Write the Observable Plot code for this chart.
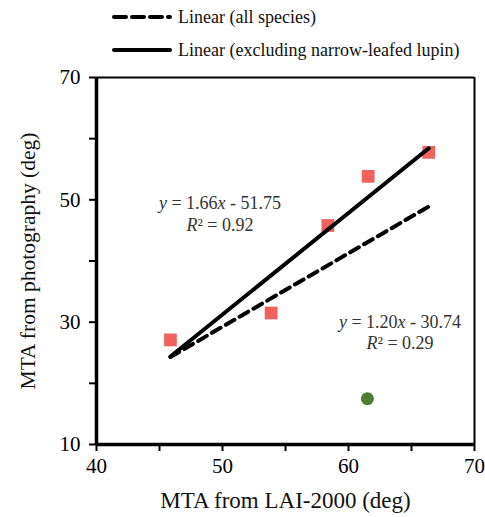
<!DOCTYPE html>
<html><head><meta charset="utf-8">
<script src="https://cdn.jsdelivr.net/npm/d3@7"></script>
<script src="https://cdn.jsdelivr.net/npm/@observablehq/plot@0.6"></script>
<style>
body{margin:0;background:#fff;font-family:"Liberation Serif","Times New Roman",serif;}
#wrap{position:relative;width:485px;height:517px;overflow:hidden;background:#fff}
#legend{position:relative;width:485px;height:62px}
.row{position:absolute;left:0;height:20px;display:flex;align-items:center}
.row svg{margin-left:112px}
.row span{margin-left:6px;font-size:18px;color:#111;white-space:nowrap;font-family:"Liberation Serif","Times New Roman",serif}
</style></head><body>
<div id="wrap"><div id="legend"></div><div id="chart"></div></div>
<script>
// Data
const laiSquares = [45.87, 53.86, 58.36, 61.56, 66.37];   // MTA from LAI-2000 (deg)
const photoSquares = [27.1, 31.5, 45.8, 53.84, 57.76];    // MTA from photography (deg)
const laiLupin = [61.5];
const photoLupin = [17.5];
const fitNames = ["Linear (all species)", "Linear (excluding narrow-leafed lupin)"];
const fitSlopes = [1.20, 1.66];
const fitIntercepts = [-30.74, -51.75];
const fitR2 = [0.29, 0.92];
const fitDash = ["10,6", null];
const labelX = [64.09, 49.8];
const labelEqY = [29.93, 49.4];
const labelR2Y = [26.55, 45.9];
const xTicks = [40, 45, 50, 55, 60, 65, 70];
const yTicks = [10, 20, 30, 40, 50, 60, 70];

// legend
const legend = d3.select("#legend");
fitNames.forEach((name, i) => {
  const row = legend.append("div").attr("class", "row").style("top", (7 + 33 * i) + "px");
  const s = row.append("svg").attr("width", 60).attr("height", 20);
  s.append("line").attr("x1", 2).attr("x2", 58).attr("y1", 10).attr("y2", 10)
    .attr("stroke", "#000").attr("stroke-width", 4)
    .attr("stroke-dasharray", fitDash[i] ? "12,6" : null)
    .attr("stroke-linecap", "round");
  row.append("span").text(name);
});

const allX = laiSquares.concat(laiLupin);
const xmin = d3.min(allX), xmax = d3.max(allX);
const fitLines = fitNames.flatMap((name, i) => [xmin, xmax].map(x => ({name, i, x, y: fitSlopes[i] * x + fitIntercepts[i]})));
const squares = laiSquares.map((x, i) => ({x, y: photoSquares[i]}));
const lupin = laiLupin.map((x, i) => ({x, y: photoLupin[i]}));
const eqLabels = fitNames.map((n, i) => ({x: labelX[i], y: labelEqY[i], t: `y = ${fitSlopes[i].toFixed(2)}x - ${Math.abs(fitIntercepts[i]).toFixed(2)}`}));
const r2Labels = fitNames.map((n, i) => ({x: labelX[i], y: labelR2Y[i], t: `R² = ${fitR2[i].toFixed(2)}`}));

const font = '"Liberation Serif","Times New Roman",serif';
const chart = Plot.plot({
  width: 485, height: 455,
  marginTop: 15, marginLeft: 96, marginRight: 11, marginBottom: 73,
  x: {domain: [40, 70]},
  y: {domain: [10, 70]},
  style: {fontFamily: font, fontSize: "21px", color: "#000", background: "#fff", overflow: "visible"},
  marks: [
    Plot.axisX({ticks: xTicks, tickFormat: d => d % 10 === 0 ? d : "", tickSize: 7, tickPadding: 7, strokeWidth: 2, label: null, fontSize: 21, fontFamily: font}),
    Plot.axisY({ticks: yTicks, tickFormat: d => (d - 10) % 20 === 0 ? d : "", tickSize: 7, tickPadding: 9, strokeWidth: 2, label: null, fontSize: 21, fontFamily: font}),
    Plot.ruleY([70], {strokeWidth: 2}),
    Plot.ruleX([70], {strokeWidth: 2}),
    Plot.ruleX([40], {strokeWidth: 3.5}),
    Plot.ruleY([10], {strokeWidth: 3.5}),
    Plot.dot(squares, {x: "x", y: "y", symbol: "square", r: 7.2, fill: "#f0625c", stroke: "none"}),
    Plot.dot(lupin, {x: "x", y: "y", r: 6.5, fill: "#4f7d32", stroke: "none"}),
    Plot.line(fitLines.filter(d => d.i === 0), {x: "x", y: "y", stroke: "#000", strokeWidth: 4, strokeDasharray: "10,6", strokeLinecap: "round"}),
    Plot.line(fitLines.filter(d => d.i === 1), {x: "x", y: "y", stroke: "#000", strokeWidth: 4, strokeLinecap: "round"}),
    Plot.text(eqLabels, {x: "x", y: "y", text: "t", fontSize: 18, fill: "#333", fontFamily: font}),
    Plot.text(r2Labels, {x: "x", y: "y", text: "t", fontSize: 18, fill: "#333", fontFamily: font}),
    Plot.text(["MTA from LAI-2000 (deg)"], {frameAnchor: "bottom", textAnchor: "middle", lineAnchor: "middle", dy: 56, fontSize: 23, fill: "#111", fontFamily: font}),
    Plot.text(["MTA from photography (deg)"], {frameAnchor: "left", textAnchor: "middle", lineAnchor: "middle", rotate: -90, dx: -68, fontSize: 21.5, fill: "#111", fontFamily: font})
  ]
});
document.getElementById("chart").appendChild(chart);

// italicise the variables in the equation labels
d3.select(chart).selectAll("text").each(function() {
  const el = d3.select(this);
  const s = this.textContent;
  let m = s.match(/^y = ([\d.]+)x - ([\d.]+)$/);
  if (m) {
    el.text("");
    el.append("tspan").attr("font-style", "italic").text("y");
    el.append("tspan").text(` = ${m[1]}`);
    el.append("tspan").attr("font-style", "italic").text("x");
    el.append("tspan").text(` - ${m[2]}`);
  } else if ((m = s.match(/^R² = ([\d.]+)$/))) {
    el.text("");
    el.append("tspan").attr("font-style", "italic").text("R");
    el.append("tspan").text(`² = ${m[1]}`);
  }
});
</script>
</body></html>
